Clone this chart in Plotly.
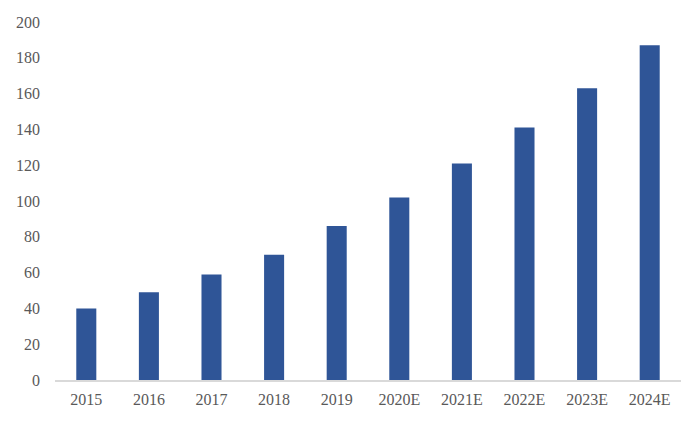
import plotly.graph_objects as go

years = ['2015', '2016', '2017', '2018', '2019', '2020E', '2021E', '2022E', '2023E', '2024E']
values = [40, 49, 59, 70, 86, 102, 121, 141, 163, 187]

bar_color = '#2F5597'
font_color = '#595959'

fig = go.Figure(go.Bar(x=years, y=values, marker=dict(color=bar_color, line=dict(width=0)), width=0.32))

# the page body has an 8px margin, keep the figure inside the window
fig.update_layout(
    width=684, height=406,
    margin=dict(l=47, r=11, t=14, b=34),
    paper_bgcolor='white', plot_bgcolor='white',
    font=dict(family='Liberation Serif, Times New Roman, serif', size=16, color=font_color),
    showlegend=False,
    bargap=0.68,
)
fig.update_xaxes(showline=True, linecolor='#D9D9D9', linewidth=1.5, showgrid=False, automargin=False,
                 ticks='', tickfont=dict(size=16), ticklabelstandoff=4)
fig.update_yaxes(range=[0, 200], dtick=20, showgrid=False, zeroline=False, showline=False, automargin=False,
                 ticks='', tickfont=dict(size=16), ticklabelstandoff=14)

fig.write_html("out.html")
